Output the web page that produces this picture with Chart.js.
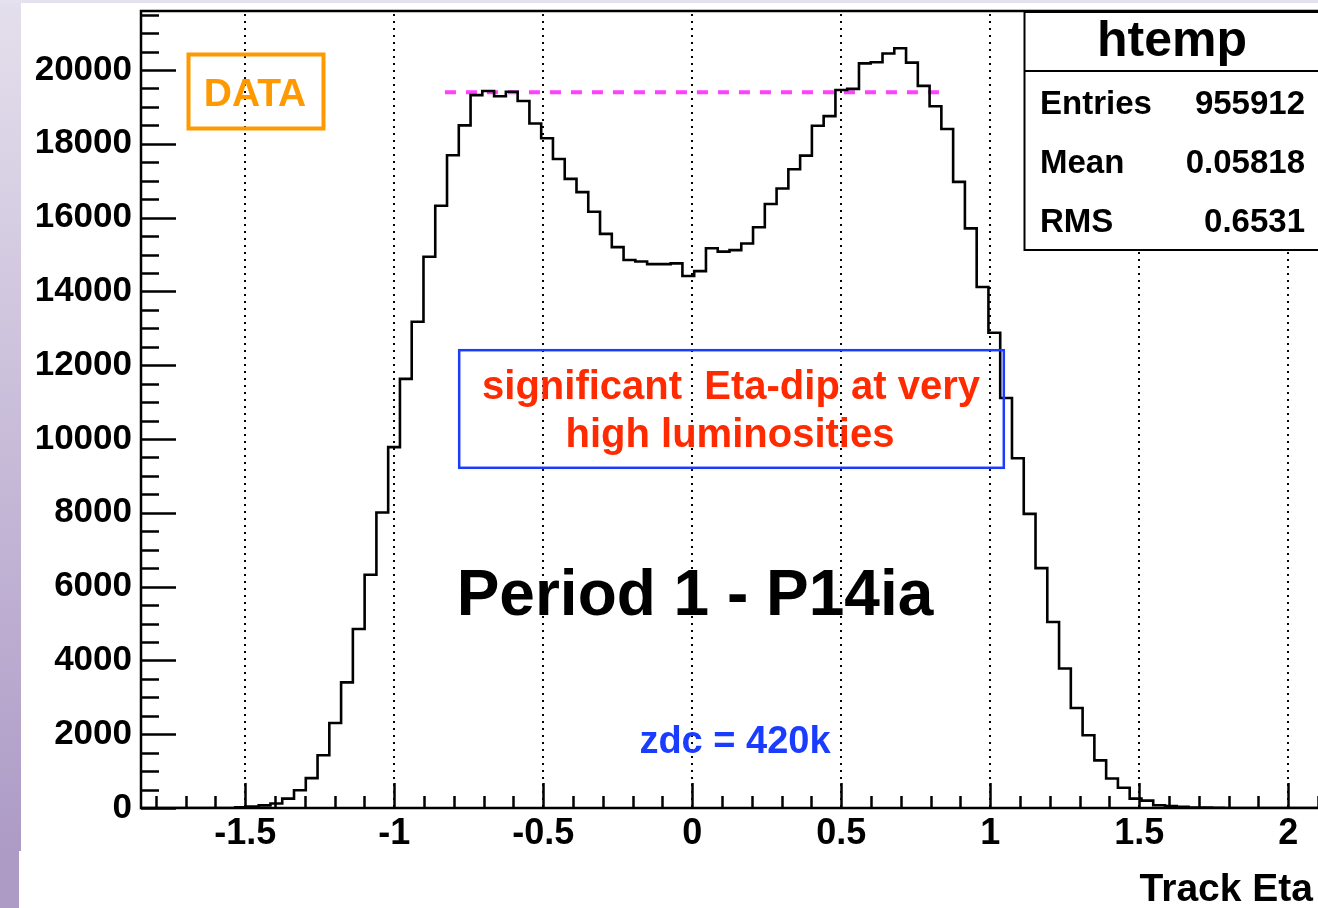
<!DOCTYPE html>
<html>
<head>
<meta charset="utf-8">
<title>Track Eta</title>
<script src="https://cdn.jsdelivr.net/npm/chart.js@4.4.1/dist/chart.umd.min.js"></script>
<style>
  html, body { margin: 0; padding: 0; background: #fff; }
  #wrap { position: relative; width: 1318px; height: 908px; overflow: hidden; }
  #strip { position: absolute; left: 0; top: 0; width: 21px; height: 851px; background: linear-gradient(#e4dfec, #ad9bc6); }
  #strip2 { position: absolute; left: 0; top: 851px; width: 19px; height: 57px; background: #ad9bc6; }
  #topband { position: absolute; left: 0; top: 0; width: 1318px; height: 3px; background: #e6e1ef; }
  #chart { position: absolute; left: 0; top: 0; }
</style>
</head>
<body>
<div id="wrap">
  <div id="strip"></div>
  <div id="strip2"></div>
  <div id="topband"></div>
  <canvas id="chart" width="1318" height="908"></canvas>
</div>
<script>
// htemp: 100 bins of track eta
const etaMin = -1.85;
const etaMax = 2.1;
const counts = [
  0, 0, 0, 0, 0, 0, 0, 0, 20, 40,
  70, 120, 255, 480, 810, 1430, 2305, 3405, 4850, 6320,
  8010, 9780, 11630, 13180, 14940, 16320, 17690, 18500, 19320, 19430,
  19290, 19410, 19160, 18550, 18150, 17590, 17050, 16690, 16160, 15560,
  15200, 14850, 14810, 14740, 14740, 14760, 14420, 14550, 15170, 15080,
  15120, 15300, 15740, 16370, 16790, 17310, 17680, 18490, 18750, 19460,
  19490, 20180, 20210, 20450, 20590, 20200, 19570, 19020, 18400, 16970,
  15710, 14120, 12880, 11110, 9480, 7970, 6500, 5040, 3780, 2710,
  1970, 1290, 800, 550, 255, 200, 75, 50, 30, 15,
  10, 5, 0, 0, 0, 0, 0, 0, 0, 0
];
const countMax = 21600;
const xTicks = [-1.5, -1, -0.5, 0, 0.5, 1, 1.5, 2];
const yTicks = [0, 2000, 4000, 6000, 8000, 10000, 12000, 14000, 16000, 18000, 20000];

// plateau reference line (magenta dashes)
const plateauEta = [-0.83, 0.85];
const plateauCount = [19400, 19400];

const statLabels = ['Entries', 'Mean', 'RMS'];
const statValues = ['955912', '0.05818', '0.6531'];

const FONT = '"Liberation Sans", Arial, Helvetica, sans-serif';

const binWidth = (etaMax - etaMin) / counts.length;
const histPoints = counts.map((c, i) => ({ x: etaMin + i * binWidth, y: c }));
histPoints.push({ x: etaMax, y: counts[counts.length - 1] });

const plateauPoints = plateauEta.map((e, i) => ({ x: e, y: plateauCount[i] }));

function font(size) {
  return 'bold ' + size + 'px ' + FONT;
}

// ROOT-style frame: dotted x grid, inward ticks, text boxes, stat box
const rootFrame = {
  id: 'rootFrame',
  beforeDatasetsDraw(chart) {
    const { ctx, chartArea: a, scales: { x } } = chart;
    ctx.save();
    ctx.strokeStyle = '#000';
    ctx.lineWidth = 2;
    ctx.setLineDash([2, 5]);
    xTicks.forEach(v => {
      const px = Math.round(x.getPixelForValue(v));
      ctx.beginPath();
      ctx.moveTo(px, a.top + 3);
      ctx.lineTo(px, a.bottom);
      ctx.stroke();
    });
    ctx.restore();
  },
  afterDatasetsDraw(chart) {
    const { ctx, chartArea: a, scales: { x, y } } = chart;
    ctx.save();
    ctx.strokeStyle = '#000';
    ctx.lineWidth = 2.5;

    // frame
    ctx.beginPath();
    ctx.moveTo(a.right + 2, a.top);
    ctx.lineTo(a.left, a.top);
    ctx.lineTo(a.left, a.bottom);
    ctx.lineTo(a.right + 2, a.bottom);
    ctx.stroke();

    // y ticks, every 500
    ctx.beginPath();
    for (let v = 0; v <= countMax; v += 500) {
      const py = Math.round(y.getPixelForValue(v)) + 0.5;
      const len = v % 2000 === 0 ? 35 : 18;
      ctx.moveTo(a.left, py);
      ctx.lineTo(a.left + len, py);
    }
    // x ticks, every 0.1
    for (let k = -18; k <= 21; k++) {
      const v = k / 10;
      const px = Math.round(x.getPixelForValue(v)) + 0.5;
      const len = k % 5 === 0 ? 25 : 12;
      ctx.moveTo(px, a.bottom);
      ctx.lineTo(px, a.bottom - len);
    }
    ctx.stroke();

    // DATA label
    ctx.strokeStyle = '#ff9900';
    ctx.lineWidth = 4;
    ctx.strokeRect(188.5, 54.5, 135, 74);
    ctx.fillStyle = '#ff9900';
    ctx.font = font(39);
    ctx.textAlign = 'center';
    ctx.textBaseline = 'alphabetic';
    ctx.fillText('DATA', 255, 106);

    // dip note
    ctx.strokeStyle = '#1a3cff';
    ctx.lineWidth = 2.5;
    ctx.strokeRect(459.2, 350.2, 544.6, 117.6);
    ctx.fillStyle = '#ff2a00';
    ctx.font = font(40);
    ctx.fillText('significant  Eta-dip at very', 731, 399);
    ctx.fillText('high luminosities', 730, 447);

    // period title
    ctx.fillStyle = '#000';
    ctx.font = font(64);
    ctx.fillText('Period 1 - P14ia', 695, 615);

    ctx.fillStyle = '#1a3cff';
    ctx.font = font(38);
    ctx.fillText('zdc = 420k', 735, 753);

    // axis title
    ctx.fillStyle = '#000';
    ctx.font = font(39);
    ctx.textAlign = 'right';
    ctx.fillText('Track Eta', 1313, 901);

    // stat box
    ctx.fillStyle = '#fff';
    ctx.fillRect(1024, 12, 300, 238);
    ctx.strokeStyle = '#000';
    ctx.lineWidth = 2;
    ctx.strokeRect(1024.5, 12, 300, 238);
    ctx.beginPath();
    ctx.moveTo(1024, 71);
    ctx.lineTo(1318, 71);
    ctx.stroke();
    ctx.fillStyle = '#000';
    ctx.font = font(50);
    ctx.textAlign = 'center';
    ctx.fillText('htemp', 1172, 56);
    ctx.font = font(33);
    statLabels.forEach((lab, i) => {
      const base = 114 + i * 59;
      ctx.textAlign = 'left';
      ctx.fillText(lab, 1040, base);
      ctx.textAlign = 'right';
      ctx.fillText(statValues[i], 1305, base);
    });
    ctx.restore();
  }
};

new Chart(document.getElementById('chart'), {
  type: 'line',
  data: {
    datasets: [{
      label: 'htemp',
      data: histPoints,
      stepped: 'before',
      borderColor: '#000',
      borderWidth: 2.6,
      pointRadius: 0,
      fill: false
    }, {
      label: 'plateau',
      data: plateauPoints,
      borderColor: '#ff40ff',
      borderWidth: 4,
      borderDash: [11, 10],
      pointRadius: 0,
      fill: false
    }]
  },
  options: {
    responsive: false,
    animation: false,
    devicePixelRatio: 1,
    layout: { padding: { top: 11, right: 0, left: 0, bottom: 0 } },
    plugins: {
      legend: { display: false },
      tooltip: { enabled: false }
    },
    scales: {
      x: {
        type: 'linear',
        min: etaMin,
        max: etaMax,
        afterFit: s => { s.height = 100; s.paddingLeft = 0; s.paddingRight = 0; },
        afterBuildTicks: s => { s.ticks = xTicks.map(v => ({ value: v })); },
        grid: { display: false, drawTicks: false },
        border: { display: false },
        ticks: {
          autoSkip: false,
          maxRotation: 0,
          padding: 4,
          color: '#000',
          font: { family: FONT, weight: 'bold', size: 36 },
          callback: v => String(v)
        }
      },
      y: {
        type: 'linear',
        min: 0,
        max: countMax,
        afterFit: s => { s.width = 141; s.paddingTop = 0; s.paddingBottom = 0; },
        afterBuildTicks: s => { s.ticks = yTicks.map(v => ({ value: v })); },
        grid: { display: false, drawTicks: false },
        border: { display: false },
        ticks: {
          padding: 9,
          color: '#000',
          font: { family: FONT, weight: 'bold', size: 35 },
          callback: v => String(v)
        }
      }
    }
  },
  plugins: [rootFrame]
});
</script>
</body>
</html>
